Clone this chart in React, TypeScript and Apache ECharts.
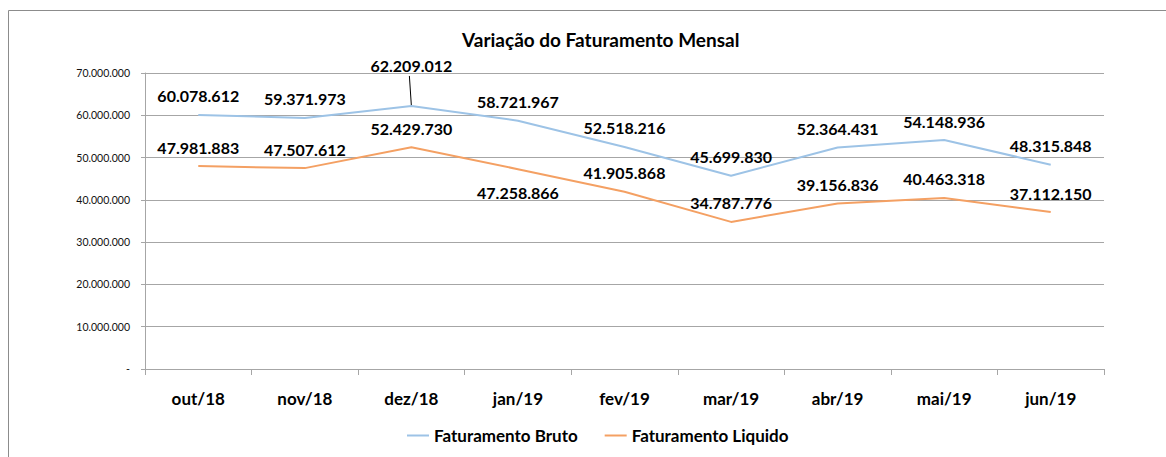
import React, { useEffect, useRef } from "react";
import * as echarts from "echarts";

const categories = ["out/18", "nov/18", "dez/18", "jan/19", "fev/19", "mar/19", "abr/19", "mai/19", "jun/19"];
const bruto = [60078612, 59371973, 62209012, 58721967, 52518216, 45699830, 52364431, 54148936, 48315848];
const liquido = [47981883, 47507612, 52429730, 47258866, 41905868, 34787776, 39156836, 40463318, 37112150];
const seriesNames = ["Faturamento Bruto", "Faturamento Liquido"];
const titleText = "Variação do Faturamento Mensal";
const colors = ["#9dc3e6", "#f4a063"];

const FONT = "Lato, 'Open Sans', sans-serif";

function fmt(v: number): string {
  return Math.round(v).toString().replace(/\B(?=(\d{3})+(?!\d))/g, ".");
}

export default function App() {
  const ref = useRef<HTMLDivElement>(null);
  useEffect(() => {
    if (!ref.current) return;
    const chart = echarts.init(ref.current, undefined, { renderer: "svg" });
    const labelBase = {
      show: true,
      position: "top",
      distance: 10,
      fontFamily: FONT,
      fontWeight: "bold",
      fontSize: 16,
      color: "#000",
      formatter: (p: any) => fmt(p.value),
    };
    const frame = {
      type: "rect",
      shape: { x: 8.5, y: 10.5, width: 1200, height: 500 },
      style: { fill: "none", stroke: "#8c8c8c", lineWidth: 1 },
      silent: true,
      z: -1,
    };
    chart.setOption({
      animation: false,
      backgroundColor: "#fff",
      textStyle: { fontFamily: FONT },
      title: {
        text: titleText,
        left: 457,
        top: 25,
        textStyle: { fontFamily: FONT, fontWeight: "bold", fontSize: 19, color: "#000" },
      },
      graphic: [frame],
      legend: {
        bottom: 8,
        left: 402,
        icon: "rect",
        itemWidth: 22,
        itemHeight: 2,
        itemGap: 27,
        textStyle: { fontFamily: FONT, fontWeight: "bold", fontSize: 17, color: "#000" },
        data: seriesNames.map((n, i) => ({ name: n, itemStyle: { color: colors[i] } })),
      },
      grid: { left: 145, right: 62, top: 73, bottom: 88, containLabel: false },
      xAxis: {
        type: "category",
        data: categories,
        boundaryGap: true,
        axisLine: { show: true, lineStyle: { color: "#a6a6a6", width: 1 } },
        axisTick: { show: true, length: 6, lineStyle: { color: "#a6a6a6" } },
        axisLabel: { fontFamily: FONT, fontWeight: "bold", fontSize: 17, color: "#000", margin: 21 },
      },
      yAxis: {
        type: "value",
        min: 0,
        max: 70000000,
        interval: 10000000,
        axisLine: { show: true, lineStyle: { color: "#a6a6a6", width: 1 } },
        axisTick: { show: true, length: 4, lineStyle: { color: "#a6a6a6" } },
        splitLine: { show: true, lineStyle: { color: "#a6a6a6", width: 1 } },
        axisLabel: {
          fontFamily: FONT,
          fontSize: 10.5,
          color: "#111",
          margin: 15,
          formatter: (v: number) => (v === 0 ? "-" : fmt(v)),
        },
      },
      series: [
        {
          name: seriesNames[0],
          type: "line",
          data: bruto.map((v, i) =>
            i === 2 ? { value: v, label: { ...labelBase, distance: 31 } } : v
          ),
          symbol: "circle",
          symbolSize: 2,
          itemStyle: { color: "transparent", borderWidth: 0 },
          lineStyle: { color: colors[0], width: 2 },
          label: labelBase,
        },
        {
          name: seriesNames[1],
          type: "line",
          data: liquido.map((v, i) =>
            i === 3 ? { value: v, label: { ...labelBase, position: "bottom", distance: 14 } } : v
          ),
          symbol: "circle",
          symbolSize: 2,
          itemStyle: { color: "transparent", borderWidth: 0 },
          lineStyle: { color: colors[1], width: 2 },
          label: labelBase,
        },
      ],
    });
    // leader line for the dez/18 label, placed from the data through the axis scale
    const anchor = chart.convertToPixel({ gridIndex: 0 }, [categories[2], bruto[2]]) as number[];
    if (anchor) {
      chart.setOption({
        graphic: [
          frame,
          {
            type: "line",
            shape: { x1: anchor[0] - 2, y1: anchor[1] - 30, x2: anchor[0], y2: anchor[1] },
            style: { stroke: "#000", lineWidth: 1 },
            silent: true,
          },
        ],
      });
    }
    return () => chart.dispose();
  }, []);
  return <div ref={ref} style={{ position: "fixed", left: 0, top: 0, width: 1166, height: 457 }} />;
}
